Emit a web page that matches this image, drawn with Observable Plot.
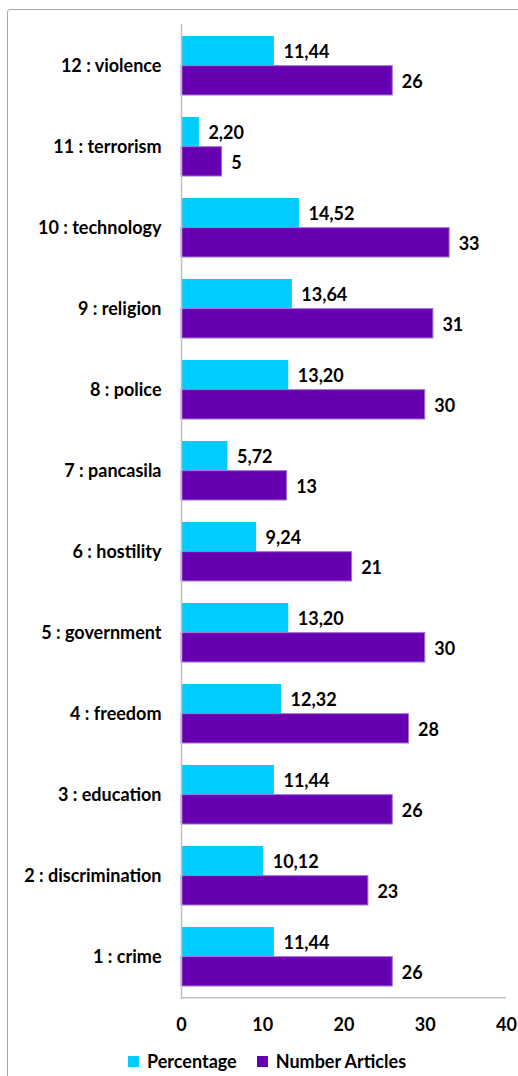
<!DOCTYPE html>
<html>
<head>
<meta charset="utf-8">
<script src="https://cdn.jsdelivr.net/npm/d3@7"></script>
<script src="https://cdn.jsdelivr.net/npm/@observablehq/plot@0.6"></script>
<style>
  html, body { margin: 0; padding: 0; background: #fff; overflow: hidden; width: 518px; height: 1076px; }
  #frame { position: absolute; left: 7px; top: 9px; width: 700px; height: 1200px; border: 1px solid #a6a6a6; border-radius: 3px; }
  #chart { position: absolute; left: 0; top: 0; }
  #legend { position: absolute; left: 128px; top: 1050px; display: flex; align-items: center; font: bold 18px Lato, "Open Sans", sans-serif; color: #000; }
  .sw { display: inline-block; width: 11px; height: 11px; margin-right: 8px; }
  .item { display: flex; align-items: center; margin-right: 20px; }
</style>
</head>
<body>
<div id="frame"></div>
<div id="chart"></div>
<div id="legend"></div>
<script>
const categories = ["1 : crime","2 : discrimination","3 : education","4 : freedom","5 : government","6 : hostility","7 : pancasila","8 : police","9 : religion","10 : technology","11 : terrorism","12 : violence"];
const percentage = [11.44,10.12,11.44,12.32,13.20,9.24,5.72,13.20,13.64,14.52,2.20,11.44];
const numberArticles = [26,23,26,28,30,21,13,30,31,33,5,26];
const seriesNames = ["Percentage","Number Articles"];
const xTicks = [0,10,20,30,40];

const colors = {cyan: "#00ccff", purple: "#6600b0"};
const W = 518, H = 1044, mt = 24, mb = 45, ml = 181, mr = 12;
const step = (H - mt - mb) / categories.length;
const bw = step * 0.73;

const rows = categories.map((c, i) => ({cat: c, pct: percentage[i], num: numberArticles[i]}));
const fmt = v => v.toFixed(2).replace(".", ",");
const font = "Lato, 'Open Sans', sans-serif";

const plot = Plot.plot({
  width: W, height: H,
  marginTop: mt, marginBottom: mb, marginLeft: ml, marginRight: mr,
  style: {fontFamily: font, fontSize: "18px", fontWeight: "bold", color: "#000", background: "transparent"},
  x: {domain: [0, 40], ticks: xTicks, tickSize: 0, tickPadding: 19, label: null, tickFormat: d => String(d)},
  y: {domain: categories.slice().reverse(), paddingInner: 0.27, paddingOuter: 0.135, tickSize: 0, tickPadding: 20, label: null},
  marks: [
    Plot.barX(rows, {y: "cat", x: "pct", fill: colors.cyan, insetBottom: bw / 2}),
    Plot.barX(rows, {y: "cat", x: "num", fill: colors.purple, stroke: "#9c70d4", strokeWidth: 1, insetTop: bw / 2}),
    Plot.text(rows, {y: "cat", x: "pct", text: d => fmt(d.pct), dx: 9, dy: -bw / 4 + 1, textAnchor: "start", fill: "#000"}),
    Plot.text(rows, {y: "cat", x: "num", text: d => String(d.num), dx: 9, dy: bw / 4 + 1, textAnchor: "start", fill: "#000"}),
    Plot.ruleX([0], {stroke: "#bfbfbf", strokeWidth: 1.5}),
    Plot.ruleY([categories[0]], {x1: 0, x2: 40, dy: step / 2, stroke: "#bfbfbf", strokeWidth: 1.5})
  ]
});
document.getElementById("chart").appendChild(plot);

const legend = document.getElementById("legend");
[[seriesNames[0], colors.cyan], [seriesNames[1], colors.purple]].forEach(([name, col]) => {
  const it = document.createElement("div");
  it.className = "item";
  const sw = document.createElement("span");
  sw.className = "sw";
  sw.style.background = col;
  it.appendChild(sw);
  it.appendChild(document.createTextNode(name));
  legend.appendChild(it);
});
</script>
</body>
</html>
